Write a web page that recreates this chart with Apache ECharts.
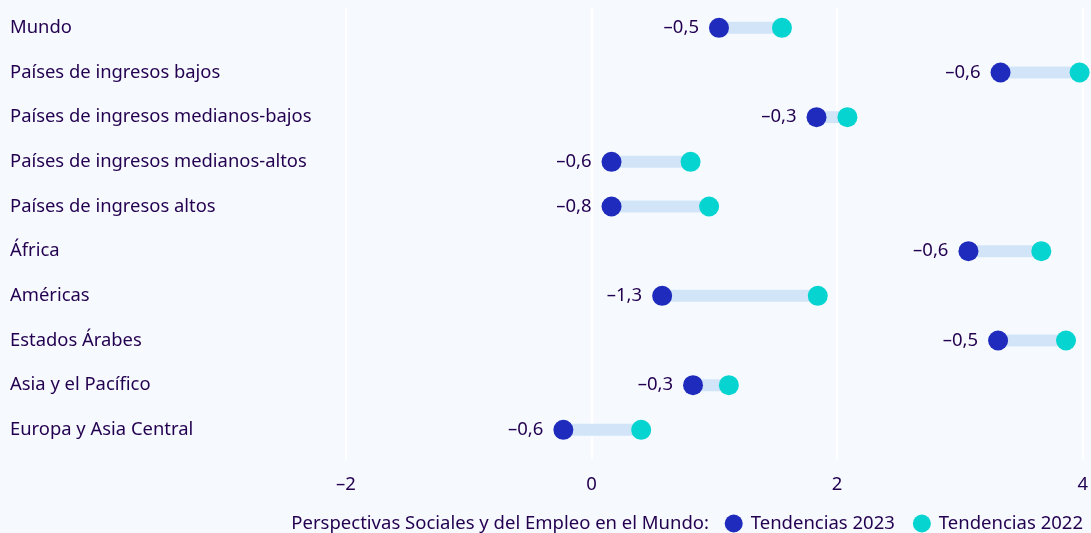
<!DOCTYPE html>
<html>
<head>
<meta charset="utf-8">
<script src="https://cdn.jsdelivr.net/npm/echarts@6/dist/echarts.min.js"></script>
<style>
html,body{margin:0;padding:0;background:#f6fafe;}
#c{width:1091px;height:533px;}
</style>
</head>
<body>
<div id="c"></div>
<script>
const categories = [
  "Mundo",
  "Países de ingresos bajos",
  "Países de ingresos medianos-bajos",
  "Países de ingresos medianos-altos",
  "Países de ingresos altos",
  "África",
  "Américas",
  "Estados Árabes",
  "Asia y el Pacífico",
  "Europa y Asia Central"
];
const trends2023 = [1.02, 3.30, 1.81, 0.15, 0.15, 3.04, 0.56, 3.28, 0.81, -0.24];
const trends2022 = [1.53, 3.94, 2.06, 0.79, 0.94, 3.63, 1.82, 3.83, 1.10, 0.39];
const change = [-0.5, -0.6, -0.3, -0.6, -0.8, -0.6, -1.3, -0.5, -0.3, -0.6];
const xTicks = [-2, 0, 2, 4];
const legendPrefix = "Perspectivas Sociales y del Empleo en el Mundo:";
const seriesNames = ["Tendencias 2023", "Tendencias 2022"];

const TXT = '#230050';
const FONT = 'Noto Sans';
const fmt = v => (v < 0 ? '\u2013' : '') + Math.abs(v).toFixed(1).replace('.', ',');

const chart = echarts.init(document.getElementById('c'), null, {renderer: 'canvas'});
const L = 346, R = 4;
chart.setOption({
  backgroundColor: '#f6fafe',
  textStyle: {fontFamily: FONT, color: TXT},
  animation: false,
  grid: [
    {left: L, right: R, top: 5.5, bottom: 80.8, containLabel: false},
    {left: L, right: R, top: 8, bottom: 73, containLabel: false}
  ],
  xAxis: [
    {gridIndex: 0, type: 'value', min: xTicks[0], max: xTicks[xTicks.length-1], interval: 2,
     show: false},
    {gridIndex: 1, type: 'value', min: xTicks[0], max: xTicks[xTicks.length-1], interval: 2,
     axisLine: {show: false}, axisTick: {show: false},
     splitLine: {show: true, lineStyle: {color: '#ffffff', width: 2}},
     axisLabel: {color: TXT, fontSize: 18.5, fontFamily: FONT, margin: 15,
       formatter: v => (v < 0 ? '\u2013' : '') + Math.abs(v)}}
  ],
  yAxis: [
    {gridIndex: 0, type: 'category', data: categories, inverse: true,
     axisLine: {show: false}, axisTick: {show: false}, splitLine: {show: false},
     axisLabel: {color: TXT, fontSize: 18.4, fontFamily: FONT, align: 'left', margin: L - 10}},
    {gridIndex: 1, type: 'value', show: false, min: 0, max: 1}
  ],
  legend: {
    right: 8, bottom: 0, padding: 0, itemWidth: 18, itemHeight: 18, itemGap: 18, icon: 'circle',
    textStyle: {color: TXT, fontSize: 18.5, fontFamily: FONT, padding: [0,0,0,3]},
    data: seriesNames
  },
  graphic: [{
    type: 'text', right: 382, bottom: 0,
    style: {text: legendPrefix, fill: TXT, font: '18.5px "Noto Sans"'}
  }],
  series: [
    {
      type: 'custom', xAxisIndex: 0, yAxisIndex: 0, silent: true,
      data: categories.map((c, i) => [trends2023[i], trends2022[i], i]),
      encode: {x: [0, 1], y: 2},
      renderItem: (params, api) => {
        const a = api.coord([api.value(0), api.value(2)]);
        const b = api.coord([api.value(1), api.value(2)]);
        return {type: 'line', shape: {x1: a[0], y1: a[1], x2: b[0], y2: b[1]},
                style: {stroke: '#d2e5f8', lineWidth: 12}};
      },
      z: 1
    },
    {
      name: seriesNames[1], type: 'scatter', xAxisIndex: 0, yAxisIndex: 0,
      symbolSize: 20, itemStyle: {color: '#05d4d1', opacity: 1},
      data: trends2022.map((v, i) => [v, i]), z: 2
    },
    {
      name: seriesNames[0], type: 'scatter', xAxisIndex: 0, yAxisIndex: 0,
      symbolSize: 20, itemStyle: {color: '#1f2bbd', opacity: 1},
      data: trends2023.map((v, i) => [v, i]), z: 3,
      label: {show: true, position: 'left', distance: 10, color: TXT, fontSize: 18.5, fontFamily: FONT,
        formatter: p => fmt(change[p.dataIndex])}
    }
  ]
});
</script>
</body>
</html>
